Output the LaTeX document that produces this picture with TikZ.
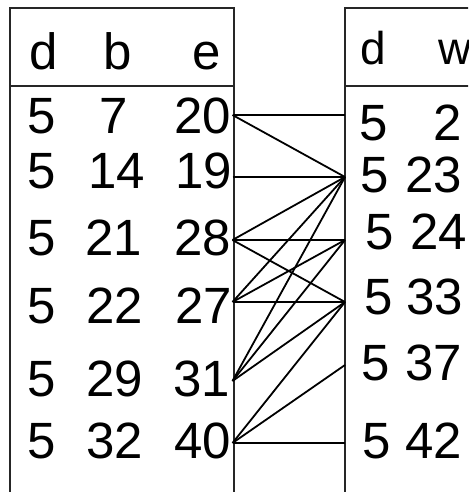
\documentclass[tikz,border=0pt]{standalone}
\usepackage{fontspec}
\setmainfont{Liberation Sans}
\begin{document}
\begin{tikzpicture}[x=1pt,y=-1pt,
  frame/.style={line width=1.7pt, draw=black!85},
  link/.style={line width=1.8pt, draw=black},
  cell/.style={inner sep=0pt, anchor=base, font=\fontsize{51}{60}\selectfont},
  hcell/.style={inner sep=0pt, anchor=base, font=\fontsize{46}{54}\selectfont}]
\useasboundingbox (0,0) rectangle (468,492);
\clip (0,0) rectangle (468,492);
% left table frame
\draw[frame] (10,495) -- (10,8) -- (234,8) -- (234,495);
\draw[frame] (10,86) -- (234,86);
% right table frame
\draw[frame] (345,495) -- (345,8) -- (472,8);
\draw[frame] (345,86) -- (472,86);
% left header
\node[cell] (hd1) at (43.5,70) {d};
\node[cell] (hb) at (118,70) {b};
\node[cell] (he) at (206.5,70) {e};
% left rows
\node[cell] (a1) at (41.5,133) {5};
\node[cell] (b1) at (114,133) {7};
\node[cell] (c1) at (203,133) {20};
\node[cell] (a2) at (41.5,188) {5};
\node[cell] (b2) at (117,188) {14};
\node[cell] (c2) at (204,188) {19};
\node[cell] (a3) at (41.5,255) {5};
\node[cell] (b3) at (114,255) {21};
\node[cell] (c3) at (203,255) {28};
\node[cell] (a4) at (41.5,323) {5};
\node[cell] (b4) at (115,323) {22};
\node[cell] (c4) at (203.5,323) {27};
\node[cell] (a5) at (41.5,396) {5};
\node[cell] (b5) at (115,396) {29};
\node[cell] (c5) at (202,396) {31};
\node[cell] (a6) at (41.5,458) {5};
\node[cell] (b6) at (115,458) {32};
\node[cell] (c6) at (203,458) {40};
% right header
\node[hcell] (hd2) at (373.5,65) {d};
\node[hcell] (hw) at (455,65) {w};
% right rows
\node[cell] (p1) at (373.5,140) {5};
\node[cell] (q1) at (447.5,140) {2};
\node[cell] (p2) at (374.5,192) {5};
\node[cell] (q2) at (433.5,192) {23};
\node[cell] (p3) at (379.5,249) {5};
\node[cell] (q3) at (438.5,249) {24};
\node[cell] (p4) at (378.5,314) {5};
\node[cell] (q4) at (435,314) {33};
\node[cell] (p5) at (375.5,380) {5};
\node[cell] (q5) at (434,380) {37};
\node[cell] (p6) at (376.5,458) {5};
\node[cell] (q6) at (434,458) {42};
% anchor points
\coordinate (L20) at (232.5,115);
\coordinate (L19) at (232.5,177);
\coordinate (L28) at (232.5,240);
\coordinate (L27) at (232.5,302);
\coordinate (L31) at (232.5,381);
\coordinate (L40) at (232.5,443);
\coordinate (R2) at (345,115);
\coordinate (R23) at (345,177);
\coordinate (R24) at (345,240);
\coordinate (R33) at (345,302);
\coordinate (R37) at (345,365);
\coordinate (R42) at (345,443);
% links
\draw[link] (L20) -- (R2);
\draw[link] (L20) -- (R23);
\draw[link] (L19) -- (R23);
\draw[link] (L28) -- (R23);
\draw[link] (L28) -- (R24);
\draw[link] (L28) -- (R33);
\draw[link] (L27) -- (R23);
\draw[link] (L27) -- (R24);
\draw[link] (L27) -- (R33);
\draw[link] (L31) -- (R23);
\draw[link] (L31) -- (R24);
\draw[link] (L31) -- (R33);
\draw[link] (L40) -- (R33);
\draw[link] (L40) -- (R37);
\draw[link] (L40) -- (R42);
\end{tikzpicture}
\end{document}
